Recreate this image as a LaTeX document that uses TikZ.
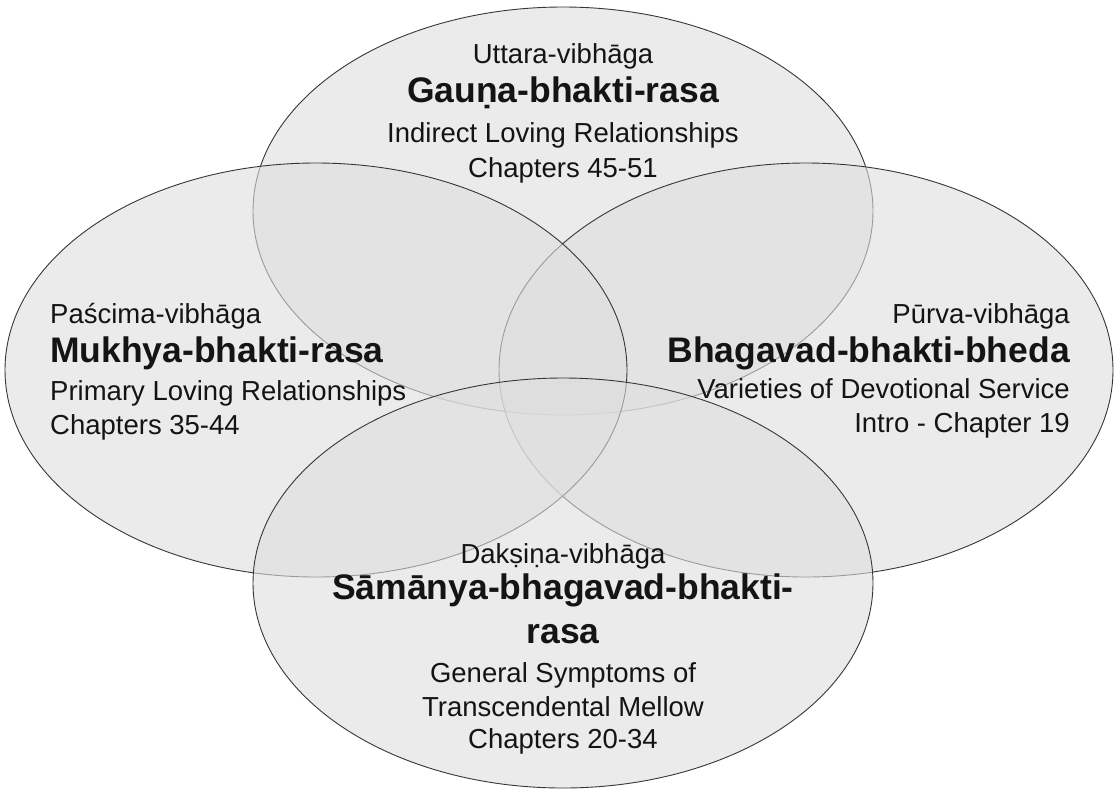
\documentclass[tikz,border=0pt]{standalone}
\usepackage{fontspec}
\setmainfont{Liberation Sans}
\definecolor{vennfill}{RGB}{222,222,222}
\definecolor{vennline}{RGB}{55,55,55}
\definecolor{txt}{RGB}{20,20,20}
\tikzset{
  venn/.style={draw=vennline, line width=0.9pt, fill=vennfill, fill opacity=0.6},
  small/.style={font=\fontsize{27.5}{30}\selectfont, inner sep=0pt, text=txt},
  big/.style={font=\bfseries\fontsize{35.5}{40}\selectfont, inner sep=0pt, text=txt},
}
\begin{document}
\begin{tikzpicture}[x=1pt,y=-1pt]
\useasboundingbox[fill=white] (0,0) rectangle (1116,793);
% ellipses (order: top, right, left, bottom)
\draw[venn] (563,211) ellipse [x radius=310pt, y radius=204pt];
\draw[venn] (806,370) ellipse [x radius=307pt, y radius=207pt];
\draw[venn] (316,370) ellipse [x radius=311pt, y radius=207pt];
\draw[venn] (563,583) ellipse [x radius=310pt, y radius=205pt];
% top
\node[small, anchor=base] (t1) at (563,63) {Uttara-vibhāga};
\node[big,   anchor=base] (t2) at (563,102) {Gauṇa-bhakti-rasa};
\node[small, anchor=base] (t3) at (563,142) {Indirect Loving Relationships};
\node[small, anchor=base] (t4) at (563,177) {Chapters 45-51};
% left
\node[small, anchor=base west] (l1) at (50,323) {Paścima-vibhāga};
\node[big,   anchor=base west] (l2) at (50,362) {Mukhya-bhakti-rasa};
\node[small, anchor=base west] (l3) at (50,400) {Primary Loving Relationships};
\node[small, anchor=base west] (l4) at (50,434) {Chapters 35-44};
% right
\node[small, anchor=base east] (r1) at (1070,323) {Pūrva-vibhāga};
\node[big,   anchor=base east] (r2) at (1070,362) {Bhagavad-bhakti-bheda};
\node[small, anchor=base east] (r3) at (1070,398) {Varieties of Devotional Service};
\node[small, anchor=base east] (r4) at (1070,432) {Intro - Chapter 19};
% bottom
\node[small, anchor=base] (b1) at (563,563) {Dakṣiṇa-vibhāga};
\node[big,   anchor=base] (b2) at (563,599) {Sāmānya-bhagavad-bhakti-};
\node[big,   anchor=base] (b3) at (563,643) {rasa};
\node[small, anchor=base] (b4) at (563,682) {General Symptoms of};
\node[small, anchor=base] (b5) at (563,716) {Transcendental Mellow};
\node[small, anchor=base] (b6) at (563,748) {Chapters 20-34};
\end{tikzpicture}
\end{document}
